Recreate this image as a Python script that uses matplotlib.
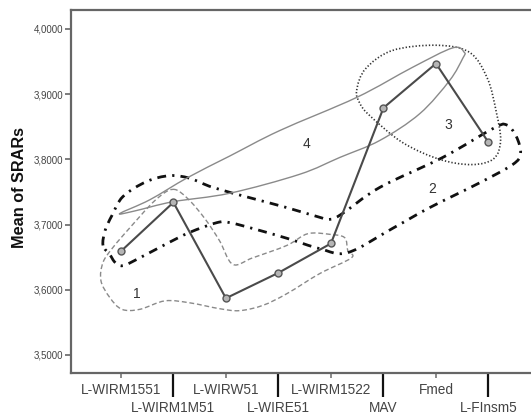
import numpy as np
import matplotlib
matplotlib.use("Agg")
import matplotlib.pyplot as plt
from matplotlib.path import Path
from matplotlib.patches import PathPatch

plt.rcParams['font.family'] = ['Liberation Sans', 'DejaVu Sans']

# ---- data ----
categories = ["L-WIRM1551", "L-WIRM1M51", "L-WIRW51", "L-WIRE51",
              "L-WIRM1522", "MAV", "Fmed", "L-FInsm5"]
mean_srars = [3.659, 3.734, 3.587, 3.626, 3.671, 3.879, 3.947, 3.826]
yticks = [3.5, 3.6, 3.7, 3.8, 3.9, 4.0]

# hand-drawn group outlines (x = category index, y = mean value)
group1_x = [0.99, 1.27, 1.60, 1.88, 2.13, 2.51, 3.16, 3.56, 3.98, 4.26, 4.32, 4.39,
            3.79, 3.16, 2.70, 2.26, 1.88, 1.31, 0.84, 0.36, 0.02, -0.21, -0.38,
            -0.34, -0.15, 0.17, 0.65]
group1_y = [3.754, 3.740, 3.709, 3.675, 3.639, 3.649, 3.668, 3.686, 3.685, 3.680,
            3.660, 3.649, 3.625, 3.594, 3.576, 3.568, 3.571, 3.580, 3.583, 3.570,
            3.570, 3.588, 3.614, 3.642, 3.665, 3.695, 3.737]

group2_x = [-0.34, -0.30, -0.17, 0.04, 0.49, 0.93, 1.31, 1.75, 2.51, 3.16, 3.75,
            3.98, 4.22, 4.93, 6.13, 7.08, 7.34, 7.53, 7.61, 7.46, 6.83, 5.88, 5.17,
            4.32, 3.79, 3.16, 2.51, 2.07, 1.83, 1.31, 0.88, 0.36, 0.04, -0.11, -0.21]
group2_y = [3.668, 3.691, 3.714, 3.743, 3.766, 3.775, 3.771, 3.757, 3.740, 3.726,
            3.712, 3.708, 3.717, 3.757, 3.803, 3.847, 3.853, 3.835, 3.809, 3.792,
            3.764, 3.726, 3.694, 3.657, 3.663, 3.679, 3.694, 3.703, 3.703, 3.688,
            3.671, 3.649, 3.637, 3.642, 3.654]

group3_x = [4.49, 4.66, 5.17, 6.01, 6.64, 6.98, 7.15, 7.23, 7.10, 6.68, 6.07, 5.36,
            4.74, 4.55]
group3_y = [3.906, 3.939, 3.967, 3.975, 3.964, 3.924, 3.872, 3.829, 3.801, 3.792,
            3.800, 3.826, 3.867, 3.886]

group4_x = [-0.02, 0.55, 1.27, 2.07, 3.02, 4.49, 5.55, 6.32, 6.54, 6.51, 6.26, 5.69,
            4.93, 4.17, 3.40, 2.07, 0.99, 0.27]
group4_y = [3.717, 3.738, 3.772, 3.805, 3.844, 3.895, 3.941, 3.971, 3.964, 3.955,
            3.921, 3.870, 3.829, 3.803, 3.777, 3.748, 3.735, 3.721]

group_labels = ["1", "2", "3", "4"]
label_x = [0.30, 5.92, 6.24, 3.54]
label_y = [3.594, 3.755, 3.853, 3.824]


def smooth_closed_path(xs, ys):
    p = np.column_stack([xs, ys]).astype(float)
    n = len(p)
    verts = [p[0]]
    codes = [Path.MOVETO]
    for i in range(n):
        p0, p1, p2, p3 = p[i - 1], p[i], p[(i + 1) % n], p[(i + 2) % n]
        c1 = p1 + (p2 - p0) / 6.0
        c2 = p2 - (p3 - p1) / 6.0
        verts += [c1, c2, p2]
        codes += [Path.CURVE4] * 3
    return Path(verts, codes)


fig = plt.figure(figsize=(5.31, 4.12), dpi=100)
ax = fig.add_axes([0.1337, 0.0947, 0.8802, 0.8811])
x = np.arange(len(categories))

styles = [
    (group1_x, group1_y, dict(edgecolor='#8a8a8a', linewidth=1.0, linestyle=(0, (3.5, 2)))),
    (group2_x, group2_y, dict(edgecolor='#111111', linewidth=2.0, linestyle=(0, (3.2, 2.2, 0.8, 2.2)))),
    (group3_x, group3_y, dict(edgecolor='#333333', linewidth=1.2, linestyle=(0, (0.8, 1.2)))),
    (group4_x, group4_y, dict(edgecolor='#8a8a8a', linewidth=1.0, linestyle='-')),
]
for gx, gy, st in styles:
    ax.add_patch(PathPatch(smooth_closed_path(gx, gy), facecolor='none', **st))

ax.plot(x, mean_srars, color='#4a4a4a', linewidth=1.5, marker='o', markersize=5,
        markerfacecolor='#b5b5b5', markeredgecolor='#555555', markeredgewidth=1.0, zorder=5)

for t, lx, ly in zip(group_labels, label_x, label_y):
    ax.text(lx, ly, t, fontsize=10, color='#333333', ha='center', va='center')

ax.set_xlim(-0.95, 7.95)
ax.set_ylim(3.4724, 4.0291)

ax.set_yticks(yticks)
ax.set_yticklabels([f"{v:.4f}".replace('.', ',') for v in yticks], fontsize=7, color='#444444')
ax.tick_params(axis='y', length=4, width=1.2, color='#666666', pad=1.5)

even = x[::2]
odd = x[1::2]
ax.set_xticks(even)
ax.set_xticklabels([categories[i] for i in even], fontsize=9.8, color='#444444')
ax.set_xticks(odd, minor=True)
ax.set_xticklabels([categories[i] for i in odd], minor=True, fontsize=9.8, color='#444444')
ax.tick_params(axis='x', which='major', length=3.6, width=1.2, color='#777777', pad=3.4)
ax.tick_params(axis='x', which='minor', length=17.3, width=1.6, color='#111111', pad=2.8)

for s in ['left', 'bottom', 'top']:
    ax.spines[s].set_color('#666666')
    ax.spines[s].set_linewidth(1.6)
ax.spines['right'].set_visible(False)

fig.text(20 / 531, 1 - 188 / 412, "Mean of SRARs", rotation=90, fontsize=11.7,
         fontweight='bold', ha='center', va='center', color='#111111')

fig.savefig("out.png", dpi=100)
